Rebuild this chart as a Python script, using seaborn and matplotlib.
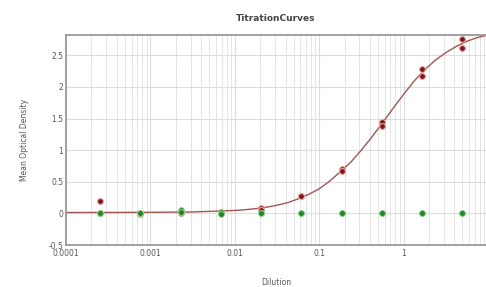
import matplotlib
matplotlib.use("Agg")
import matplotlib.pyplot as plt
import matplotlib.ticker as mticker
import pandas as pd
import seaborn as sns

# dilution series (1:3 steps)
dilution = [5.0, 1.667, 0.556, 0.185, 0.0617, 0.0206, 0.00686, 0.00229, 0.000762, 0.000254]

# duplicate readings, sample (red) and control (green)
red_a = [2.75, 2.28, 1.45, 0.70, 0.28, 0.09, 0.03, 0.02, 0.00, 0.20]
red_b = [2.61, 2.17, 1.38, 0.67, 0.27, 0.06, 0.00, 0.01, -0.01, 0.01]
green_a = [0.00, 0.00, 0.00, 0.00, 0.00, 0.00, 0.03, 0.06, 0.00, 0.00]
green_b = [0.00, 0.00, 0.00, 0.00, 0.00, 0.00, -0.01, 0.02, 0.00, 0.00]

# fitted curve
curve_x = [1e-4, 3.16e-4, 1e-3, 3.16e-3, 1e-2, 1.33e-2, 1.78e-2, 2.37e-2,
           3.16e-2, 4.22e-2, 5.62e-2, 0.075, 0.1, 0.133, 0.178, 0.237,
           0.316, 0.422, 0.562, 0.75, 1.0, 1.33, 1.78, 2.37, 3.16, 4.22,
           5.62, 7.5, 10.0]
curve_y = [0.015, 0.016, 0.018, 0.024, 0.047, 0.059, 0.077, 0.099,
           0.13, 0.17, 0.23, 0.30, 0.39, 0.51, 0.66, 0.81,
           1.0, 1.21, 1.43, 1.66, 1.88, 2.09, 2.27, 2.42, 2.54, 2.64,
           2.72, 2.78, 2.82]

red = pd.DataFrame({"dilution": dilution * 2, "od": red_a + red_b})
green = pd.DataFrame({"dilution": dilution * 2, "od": green_a + green_b})
curve = pd.DataFrame({"dilution": curve_x, "od": curve_y})

sns.set_style("white")
plt.rcParams["font.family"] = ["DejaVu Sans"]

fig = plt.figure(figsize=(4.86, 2.87), dpi=100)
ax = fig.add_axes([0.136, 0.146, 0.864, 0.732])

sns.lineplot(data=curve, x="dilution", y="od", ax=ax, color="#a55555",
             linewidth=1.0, zorder=2)
sns.scatterplot(data=red, x="dilution", y="od", ax=ax, color="#7a1818",
                edgecolor="#f2a0a0", linewidth=0.8, s=18, zorder=3)
sns.scatterplot(data=green, x="dilution", y="od", ax=ax, color="#1f8a1f",
                edgecolor="#9ad89a", linewidth=0.6, s=18, zorder=4)

ax.set_xscale("log")
ax.set_xlim(1e-4, 9.5)
ax.set_ylim(-0.5, 2.82)
ax.yaxis.set_major_locator(mticker.MultipleLocator(0.5))
ax.yaxis.set_major_formatter(mticker.FormatStrFormatter("%g"))
ax.xaxis.set_major_locator(mticker.LogLocator(base=10))
ax.xaxis.set_minor_locator(mticker.LogLocator(base=10, subs=range(2, 10)))
ax.xaxis.set_major_formatter(mticker.FuncFormatter(lambda v, p: f"{v:.10g}"))
ax.xaxis.set_minor_formatter(mticker.NullFormatter())

ax.grid(True, which="major", axis="both", color="#dddddd", linewidth=0.8)
ax.grid(True, which="minor", axis="x", color="#e4e4e4", linewidth=0.7)
ax.tick_params(axis="both", which="both", length=0, labelsize=5.5,
               labelcolor="#555555", pad=2)
ax.tick_params(axis="x", pad=3)

for side in ["left", "bottom", "top"]:
    ax.spines[side].set_color("#999999")
    ax.spines[side].set_linewidth(1.3)
ax.spines["right"].set_visible(False)

ax.set_title("TitrationCurves", fontsize=6.5, fontweight="bold",
             color="#444444", pad=10)
ax.set_xlabel("Dilution", fontsize=5.5, color="#555555", labelpad=14)
ax.set_ylabel("Mean Optical Density", fontsize=5.5, color="#555555", labelpad=14)

fig.savefig("out.png", dpi=100)
